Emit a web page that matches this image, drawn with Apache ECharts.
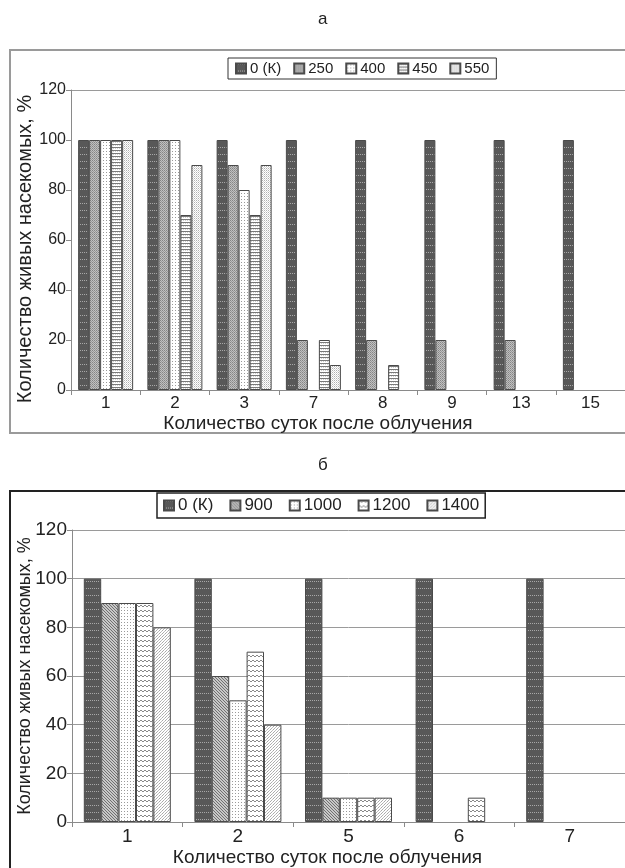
<!DOCTYPE html>
<html>
<head>
<meta charset="utf-8">
<script src="https://cdn.jsdelivr.net/npm/echarts@6.0.0/dist/echarts.min.js"></script>
<style>
  html, body { margin: 0; padding: 0; background: #fff; }
  #chart { width: 625px; height: 868px; }
</style>
</head>
<body>
<div id="chart"></div>
<script>
// панель а
const daysA = ['1', '2', '3', '7', '8', '9', '13', '15'];
const dosesA = ['0 (К)', '250', '400', '450', '550'];
const a0 = [100, 100, 100, 100, 100, 100, 100, 100];
const a250 = [100, 100, 90, 20, 20, 20, 20, 0];
const a400 = [100, 100, 80, 0, 0, 0, 0, 0];
const a450 = [100, 70, 70, 20, 10, 0, 0, 0];
const a550 = [100, 90, 90, 10, 0, 0, 0, 0];

// панель б
const daysB = ['1', '2', '5', '6', '7'];
const dosesB = ['0 (К)', '900', '1000', '1200', '1400'];
const b0 = [100, 100, 100, 100, 100];
const b900 = [90, 60, 10, 0, 0];
const b1000 = [90, 50, 10, 0, 0];
const b1200 = [90, 70, 10, 10, 0];
const b1400 = [80, 40, 10, 0, 0];

const yTitle = 'Количество живых насекомых, %';
const xTitle = 'Количество суток после облучения';
const FONT = '"Liberation Sans", Arial, sans-serif';

// штриховки как в Excel
function pattern(w, h, bg, dots) {
    const c = document.createElement('canvas');
    c.width = w; c.height = h;
    const g = c.getContext('2d');
    g.fillStyle = bg;
    g.fillRect(0, 0, w, h);
    dots.forEach(d => { g.fillStyle = d[2]; g.fillRect(d[0], d[1], d[3] || 1, d[4] || 1); });
    return { image: c, repeat: 'repeat' };
}

const fills = {
    dark: pattern(2, 7, '#585858', [[0, 0, '#a8a8a8']]),
    mid: pattern(2, 2, '#c0c0c0', [[0, 0, '#858585'], [1, 1, '#999']]),
    sparse: pattern(3, 3, '#fff', [[1, 1, '#9a9a9a']]),
    stripes: pattern(2, 3, '#fff', [[0, 0, '#7a7a7a', 2, 1], [1, 1, '#cfcfcf']]),
    light: pattern(2, 2, '#fff', [[0, 0, '#b0b0b0'], [1, 1, '#d8d8d8']]),
    hatch: pattern(3, 3, '#c8c8c8', [[0, 0, '#707070'], [1, 1, '#707070'], [2, 2, '#707070']]),
    wave: pattern(4, 5, '#fff', [[0, 0, '#888', 2, 1], [2, 1, '#888', 2, 1]]),
    dense: pattern(3, 3, '#fff', [[0, 0, '#a8a8a8'], [2, 1, '#c0c0c0'], [1, 2, '#b0b0b0']])
};

const chart = echarts.init(document.getElementById('chart'), null, { renderer: 'canvas' });

function barSeries(name, data, fill, idx, width) {
    return {
        type: 'bar', name: name,
        // нулевые столбцы без обводки
        data: data.map(v => v === 0 ? { value: 0, itemStyle: { borderWidth: 0 } } : v),
        xAxisIndex: idx, yAxisIndex: idx,
        barWidth: width, barGap: '0%',
        itemStyle: { color: fill, borderColor: '#4a4a4a', borderWidth: 1 },
        emphasis: { disabled: true },
        animation: false
    };
}

function yAxis(idx, size, nameSize, gap, gridColors) {
    return {
        type: 'value', gridIndex: idx, min: 0, max: 120, interval: 20,
        name: yTitle, nameLocation: 'middle', nameGap: gap, nameMoveOverlap: false,
        nameTextStyle: { fontFamily: FONT, fontSize: nameSize, color: '#222', padding: idx === 0 ? [0, 0, 0, -18] : 0 },
        axisLine: { show: true, lineStyle: { color: '#8a8a8a', width: 1 } },
        axisTick: { show: true, length: 5, lineStyle: { color: '#8a8a8a' } },
        axisLabel: { fontFamily: FONT, fontSize: size, color: '#222', margin: 5 },
        splitLine: { show: true, lineStyle: { color: gridColors, width: 1 } }
    };
}

function xAxis(idx, cats, size, nameSize, gap, pad) {
    return {
        type: 'category', gridIndex: idx, data: cats,
        name: xTitle, nameLocation: 'middle', nameGap: gap,
        nameTextStyle: { fontFamily: FONT, fontSize: nameSize, color: '#222', padding: pad },
        axisLine: { show: true, lineStyle: { color: '#8a8a8a', width: 1 } },
        axisTick: { show: true, length: 5, lineStyle: { color: '#8a8a8a' } },
        axisLabel: { fontFamily: FONT, fontSize: size, color: '#222', margin: 5 }
    };
}

const noLine = 'rgba(0,0,0,0)';

chart.setOption({
    backgroundColor: '#fff',
    animation: false,
    title: [
        { text: 'а', left: 313, top: 6, textStyle: { fontFamily: FONT, fontSize: 17, fontWeight: 'normal', color: '#222' } },
        { text: 'б', left: 313, top: 452, textStyle: { fontFamily: FONT, fontSize: 17, fontWeight: 'normal', color: '#222' } }
    ],
    legend: [
        {
            data: dosesA, left: 228, top: 58, padding: [3, 7, 3, 7],
            itemWidth: 10, itemHeight: 10, itemGap: 12, icon: 'rect',
            borderColor: '#333', borderWidth: 1,
            textStyle: { fontFamily: FONT, fontSize: 15, color: '#222', padding: [0, 0, 0, -1] },
            selectedMode: false
        },
        {
            data: dosesB, left: 157, top: 493, padding: [4, 6, 4, 6],
            itemWidth: 10, itemHeight: 10, itemGap: 16, icon: 'rect',
            borderColor: '#222', borderWidth: 1.5,
            textStyle: { fontFamily: FONT, fontSize: 17, color: '#222', padding: [0, 0, 0, -1] },
            selectedMode: false
        }
    ],
    graphic: [
        { type: 'rect', shape: { x: 10, y: 50, width: 640, height: 383 }, style: { fill: null, stroke: '#9a9a9a', lineWidth: 2 }, silent: true, z: -1 },
        { type: 'rect', shape: { x: 10, y: 491, width: 640, height: 420 }, style: { fill: null, stroke: '#222', lineWidth: 2 }, silent: true, z: -1 }
    ],
    grid: [
        { left: 71, top: 90, width: 561, height: 300 },
        { left: 72, top: 530, width: 558, height: 292 }
    ],
    xAxis: [
        xAxis(0, daysA, 17, 19, 24, [0, 60, 0, 0]),
        xAxis(1, daysB, 19, 19, 26, [0, 42, 0, 0])
    ],
    yAxis: [
        yAxis(0, 16, 20, 36, [noLine, noLine, noLine, noLine, noLine, noLine, '#9a9a9a']),
        yAxis(1, 19, 18, 38, ['#9a9a9a'])
    ],
    series: [
        barSeries(dosesA[0], a0, fills.dark, 0, 11),
        barSeries(dosesA[1], a250, fills.mid, 0, 11),
        barSeries(dosesA[2], a400, fills.sparse, 0, 11),
        barSeries(dosesA[3], a450, fills.stripes, 0, 11),
        barSeries(dosesA[4], a550, fills.light, 0, 11),
        barSeries(dosesB[0], b0, fills.dark, 1, 17.4),
        barSeries(dosesB[1], b900, fills.hatch, 1, 17.4),
        barSeries(dosesB[2], b1000, fills.sparse, 1, 17.4),
        barSeries(dosesB[3], b1200, fills.wave, 1, 17.4),
        barSeries(dosesB[4], b1400, fills.dense, 1, 17.4)
    ]
});

window.addEventListener('resize', () => chart.resize());
</script>
</body>
</html>
